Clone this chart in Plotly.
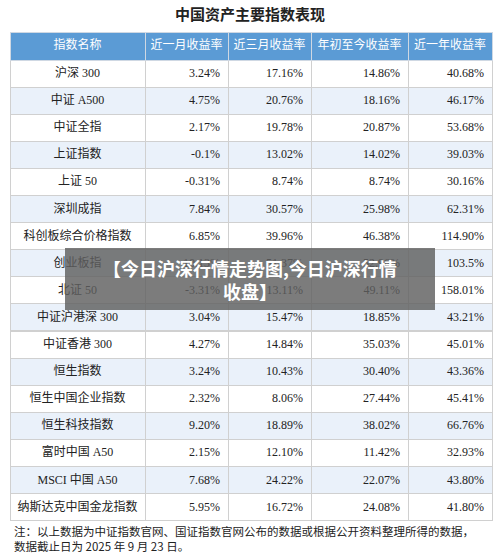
import plotly.graph_objects as go

W, H = 500, 559

headers = ['指数名称', '近一月收益率', '近三月收益率', '年初至今收益率', '近一年收益率']
names = ['沪深 300', '中证 A500', '中证全指', '上证指数', '上证 50', '深圳成指',
         '科创板综合价格指数', '创业板指', '北证 50', '中证沪港深 300', '中证香港 300',
         '恒生指数', '恒生中国企业指数', '恒生科技指数', '富时中国 A50', 'MSCI 中国 A50',
         '纳斯达克中国金龙指数']
m1 = ['3.24%', '4.75%', '2.17%', '-0.1%', '-0.31%', '7.84%', '6.85%', '10.13%', '-3.31%',
      '3.04%', '4.27%', '3.24%', '2.32%', '9.20%', '2.15%', '7.68%', '5.95%']
m3 = ['17.16%', '20.76%', '19.78%', '13.02%', '8.74%', '30.57%', '39.96%', '51.37%', '13.11%',
      '15.47%', '14.84%', '10.43%', '8.06%', '18.89%', '12.10%', '24.22%', '16.72%']
ytd = ['14.86%', '18.16%', '20.87%', '14.02%', '8.74%', '25.98%', '46.38%', '52.96%', '49.11%',
       '18.85%', '35.03%', '30.40%', '27.44%', '38.02%', '11.42%', '22.07%', '24.08%']
y1 = ['40.68%', '46.17%', '53.68%', '39.03%', '30.16%', '62.31%', '114.90%', '103.5%', '158.01%',
      '43.21%', '45.01%', '43.36%', '45.41%', '66.76%', '32.93%', '43.80%', '41.80%']

fills = ['white' if i % 2 == 0 else '#eaf1fa' for i in range(len(names))]
FONT = 'Liberation Serif, Noto Sans CJK SC'

fig = go.Figure(go.Table(
    columnwidth=[135, 83, 83, 97, 84],
    domain=dict(x=[10 / W, 492 / W], y=[0, 1 - 32 / H]),
    header=dict(values=headers, fill_color='#5b9bd5', height=28,
                line=dict(color='#cfd8e3', width=1),
                font=dict(color='white', size=12, family=FONT), align='center'),
    cells=dict(values=[names, m1, m3, ytd, y1], fill_color=[fills] * 5, height=27.1,
               line=dict(color='#d0d0d0', width=1),
               font=dict(color='#222', size=12, family=FONT),
               align=['center', 'right', 'right', 'right', 'right']),
))

fig.add_shape(type='rect', xref='paper', yref='paper',
              x0=65 / W, x1=435 / W, y0=1 - 310 / H, y1=1 - 248 / H,
              fillcolor='rgba(95,95,95,0.82)', line_width=0)
fig.add_annotation(xref='paper', yref='paper', x=0.5, y=1 - 279 / H, yanchor='middle',
                   text='<b>【今日沪深行情走势图,今日沪深行情<br>收盘】</b>', showarrow=False,
                   font=dict(color='white', size=18, family='Noto Sans CJK SC'))
fig.add_annotation(xref='paper', yref='paper', x=0.5, y=1 - 15 / H, yanchor='middle',
                   text='<b>中国资产主要指数表现</b>', showarrow=False,
                   font=dict(color='#222', size=15, family=FONT))
fig.add_annotation(xref='paper', yref='paper', x=12 / W, y=1 - 538 / H, xanchor='left',
                   yanchor='middle', align='left', showarrow=False,
                   text='注：以上数据为中证指数官网、国证指数官网公布的数据或根据公开资料整理所得的数据，<br>数据截止日为 2025 年 9 月 23 日。',
                   font=dict(color='#222', size=11.5, family='Noto Sans CJK SC'))

fig.update_layout(width=W, height=H, margin=dict(l=0, r=0, t=0, b=0),
                  paper_bgcolor='white')
fig.write_html('out.html', config={'displayModeBar': False})

# drop the default body margin so the figure sits at the window's corner
with open('out.html', encoding='utf-8') as f:
    page = f.read()
with open('out.html', 'w', encoding='utf-8') as f:
    f.write(page.replace('<body>', '<body style="margin:0">', 1))
